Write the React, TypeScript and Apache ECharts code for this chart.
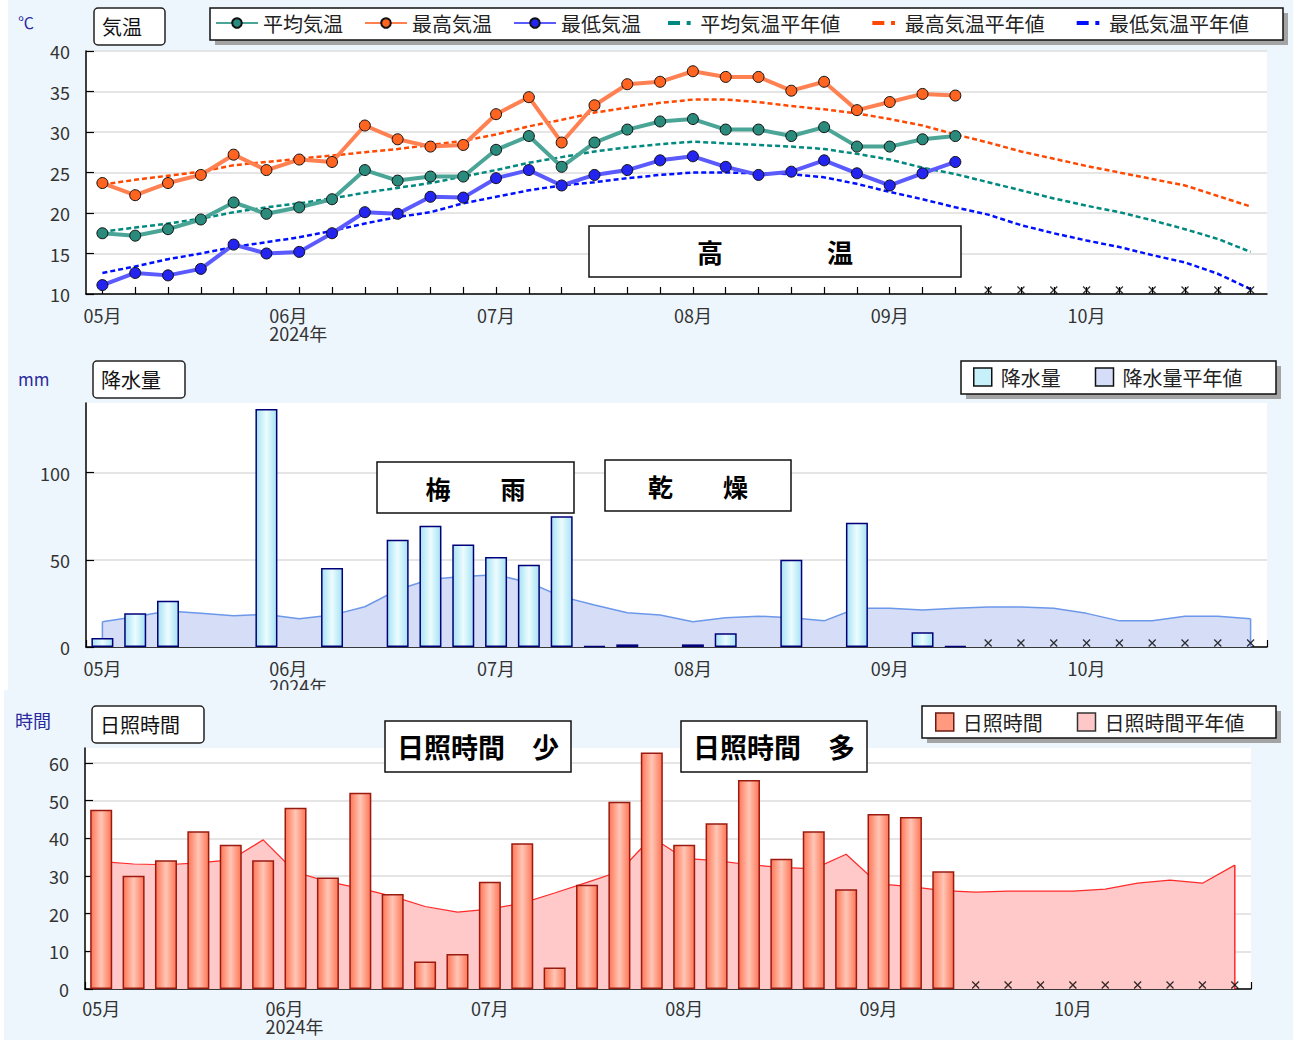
import React, { useEffect, useRef } from 'react';
import * as echarts from 'echarts';

// ---------- data ----------
const pentads = [
  '05/01', '05/06', '05/11', '05/16', '05/21', '05/26',
  '06/01', '06/06', '06/11', '06/16', '06/21', '06/26',
  '07/01', '07/06', '07/11', '07/16', '07/21', '07/26',
  '08/01', '08/06', '08/11', '08/16', '08/21', '08/26',
  '09/01', '09/06', '09/11', '09/16', '09/21', '09/26',
  '10/01', '10/06', '10/11', '10/16', '10/21', '10/26',
];
const monthTickLabels = ['05月', '06月', '07月', '08月', '09月', '10月'];
const yearLabel = '2024年';
const pentadsPerMonth = 6;

const N = null;
const avgTemp = [17.5, 17.2, 18.0, 19.2, 21.3, 19.9, 20.7, 21.7, 25.3, 24.0, 24.5, 24.5, 27.8, 29.5, 25.7, 28.7, 30.3, 31.3, 31.6, 30.3, 30.3, 29.5, 30.6, 28.2, 28.2, 29.1, 29.5, N, N, N, N, N, N, N, N, N];
const maxTemp = [23.7, 22.2, 23.7, 24.7, 27.2, 25.3, 26.6, 26.3, 30.8, 29.1, 28.2, 28.4, 32.2, 34.3, 28.7, 33.3, 35.9, 36.2, 37.5, 36.8, 36.8, 35.1, 36.2, 32.7, 33.7, 34.7, 34.5, N, N, N, N, N, N, N, N, N];
const minTemp = [11.1, 12.6, 12.3, 13.1, 16.1, 15.0, 15.2, 17.5, 20.1, 19.9, 22.0, 21.9, 24.3, 25.3, 23.4, 24.7, 25.3, 26.5, 27.0, 25.7, 24.7, 25.1, 26.5, 24.9, 23.4, 24.9, 26.3, N, N, N, N, N, N, N, N, N];
const avgTempNormal = [17.7, 18.2, 18.7, 19.3, 20.1, 20.7, 21.2, 21.8, 22.5, 23.1, 23.7, 24.5, 25.3, 26.2, 26.9, 27.6, 28.1, 28.5, 28.8, 28.6, 28.4, 28.2, 27.9, 27.3, 26.6, 25.6, 24.8, 23.8, 22.8, 21.8, 20.9, 20.1, 19.1, 18.0, 16.8, 15.2];
const maxTempNormal = [23.5, 24.1, 24.6, 25.1, 25.9, 26.3, 26.7, 27.1, 27.5, 27.9, 28.4, 28.9, 29.7, 30.7, 31.5, 32.4, 33.0, 33.6, 34.0, 34.0, 33.7, 33.2, 32.8, 32.3, 31.6, 30.8, 29.7, 28.7, 27.6, 26.7, 25.8, 25.0, 24.2, 23.4, 22.1, 20.8];
const minTempNormal = [12.6, 13.4, 14.3, 15.0, 15.8, 16.4, 17.0, 17.8, 18.7, 19.5, 20.1, 21.2, 22.0, 22.8, 23.4, 23.8, 24.3, 24.7, 25.0, 25.0, 24.9, 24.8, 24.4, 23.6, 22.6, 21.7, 20.7, 19.8, 18.5, 17.5, 16.6, 15.8, 14.8, 13.9, 12.5, 10.6];

const precip = [5.2, 19.3, 26.6, 0, 0, 136.5, 0, 45.3, 0, 61.5, 69.6, 58.8, 51.6, 47.2, 75.0, 0.5, 1.5, 0, 1.5, 7.9, 0, 50.0, 0, 71.3, 0, 8.5, 0.5, N, N, N, N, N, N, N, N, N];
const precipNormal = [14.5, 17.3, 20.6, 19.3, 17.9, 18.7, 16.2, 18.3, 23.1, 32.8, 38.9, 40.5, 41.4, 37.0, 28.9, 24.1, 19.7, 18.3, 14.5, 16.8, 17.7, 16.8, 15.0, 22.2, 22.2, 21.2, 22.2, 22.9, 22.9, 22.2, 19.3, 15.0, 15.0, 17.7, 17.7, 16.2];

const sunshine = [47.6, 30.1, 34.2, 41.9, 38.3, 34.2, 48.1, 29.6, 52.1, 25.2, 7.3, 9.3, 28.5, 38.7, 5.7, 27.7, 49.7, 62.8, 38.3, 44.0, 55.5, 34.6, 41.9, 26.5, 46.5, 45.7, 31.3, N, N, N, N, N, N, N, N, N];
const sunshineNormal = [33.8, 33.2, 33.0, 33.5, 34.3, 39.6, 31.0, 28.5, 26.7, 24.6, 21.9, 20.4, 21.2, 22.8, 25.5, 28.3, 31.2, 40.3, 34.7, 34.1, 33.0, 32.3, 31.9, 35.8, 27.9, 27.2, 26.1, 25.7, 26.0, 26.0, 26.0, 26.5, 28.1, 28.9, 28.1, 32.9];

// ---------- styles ----------
const FONT = "'Noto Sans CJK JP', 'Noto Sans', sans-serif";
const BG = '#eef6fd';
const X_MARK = 'path://M0,0L10,10M10,0L0,10';
const SQUARE = 'path://M0,0H10V10H0Z';
const DASH_DOT = 'path://M0,0H9V3H0ZM14,0H17V3H14Z';

const xAxisFor = (ticksAtCenter: boolean, labelMargin: number) => ({
  type: 'category',
  data: pentads,
  boundaryGap: true,
  axisLine: { lineStyle: { color: '#000', width: 1.5 } },
  axisTick: {
    show: true, interval: 0, inside: true, length: 7, alignWithLabel: ticksAtCenter,
    lineStyle: { color: '#000', width: 1.2 },
  },
  axisLabel: {
    interval: 0, margin: labelMargin, fontSize: 18, color: '#333', fontFamily: FONT, lineHeight: 18,
    formatter: (_v: string, i: number) => {
      if (i % pentadsPerMonth !== 0) return '';
      const m = monthTickLabels[i / pentadsPerMonth];
      if (i === pentadsPerMonth) return `{y|${m}}\n{y|${yearLabel}}`;
      return m;
    },
    rich: { y: { width: 60, align: 'left', fontSize: 18, lineHeight: 18, color: '#333', fontFamily: FONT } },
  },
  splitLine: { show: false },
});

const yAxisFor = (min: number, max: number, interval: number) => ({
  type: 'value', min, max, interval,
  axisLine: { show: true, lineStyle: { color: '#000', width: 1.5 } },
  axisTick: { show: true, inside: true, length: 8, lineStyle: { color: '#000', width: 1.2 } },
  axisLabel: { margin: 16, fontSize: 18, color: '#333', fontFamily: FONT, showMaxLabel: max % interval === 0 },
  splitLine: { show: true, showMaxLine: max % interval === 0, lineStyle: { color: '#dcdcdc', width: 1.5 } },
});

const gridAt = (left: number, top: number, width: number, height: number) => ({
  left, top, width, height, show: true, backgroundColor: '#fff', borderWidth: 0,
  containLabel: false, outerBoundsMode: 'none',
});

const noDataMarks = (obs: (number | null)[], base: number) => ({
  type: 'scatter',
  data: obs.map((v, i) => (v == null ? [i, base] : null)).filter((d) => d !== null),
  symbol: X_MARK, symbolSize: 7, symbolOffset: [0, -4],
  itemStyle: { color: 'none', borderColor: '#000', borderWidth: 1.3 },
  silent: true, z: 6, clip: false,
});

// bars with a zero amount draw nothing
const barValues = (obs: (number | null)[]) => obs.map((v) => (v === 0 ? null : v));

const labelBox = (x: number, y: number, w: number, h: number, text: string) => ([
  { type: 'rect', z: 10, shape: { x, y, width: w, height: h, r: 4 }, style: { fill: '#fff', stroke: '#222', lineWidth: 1.5 } },
  { type: 'text', z: 11, style: { x: x + 8, y: y + h / 2, text, fill: '#111', fontSize: 20, fontFamily: FONT, verticalAlign: 'middle', align: 'left' } },
]);

const legendFrame = (x: number, y: number, w: number, h: number) => ([
  { type: 'rect', z: 1, shape: { x: x + 5, y: y + 5, width: w, height: h }, style: { fill: '#a4a4a4' } },
  { type: 'rect', z: 2, shape: { x, y, width: w, height: h }, style: { fill: '#fff', stroke: '#111', lineWidth: 1.5 } },
]);

const noteBox = (x: number, y: number, w: number, h: number, text: string, size: number) => ([
  { type: 'rect', z: 100, shape: { x, y, width: w, height: h }, style: { fill: '#fff', stroke: '#111', lineWidth: 1.5 } },
  { type: 'text', z: 101, style: { x: x + w / 2, y: y + h / 2, text, fill: '#000', fontSize: size, fontWeight: 'bold', fontFamily: FONT, align: 'center', verticalAlign: 'middle' } },
]);

const unitText = (x: number, y: number, text: string, size: number) => ({
  type: 'text', z: 10, style: { x, y, text, fill: '#2a2aa0', fontSize: size, fontFamily: FONT, verticalAlign: 'middle', align: 'left' },
});

const legendText = { fontSize: 20, color: '#222', fontFamily: FONT };

// ---------- panel 1: temperature ----------
const obsLine = (name: string, data: (number | null)[], lineColor: string, dotColor: string) => ({
  name, type: 'line', data, symbol: 'circle', symbolSize: 11, showSymbol: true,
  lineStyle: { color: lineColor, width: 4 },
  itemStyle: { color: dotColor, borderColor: '#111', borderWidth: 1 },
  z: 4,
});
const normLine = (name: string, data: number[], color: string) => ({
  name, type: 'line', data, symbol: 'none',
  lineStyle: { color, width: 2.5, type: [5, 3] },
  itemStyle: { color },
  z: 3,
});

const option1 = {
  animation: false,
  backgroundColor: BG,
  textStyle: { fontFamily: FONT },
  grid: gridAt(78, 51, 1181, 243),
  xAxis: xAxisFor(true, 12),
  yAxis: yAxisFor(10, 40, 5),
  legend: [
    {
      data: ['平均気温', '最高気温', '最低気温'], left: 207, top: 13, padding: 0,
      itemWidth: 42, itemHeight: 12, itemGap: 21, textStyle: legendText, lineStyle: { width: 2 },
    },
    {
      data: [
        { name: '平均気温平年値', icon: DASH_DOT },
        { name: '最高気温平年値', icon: DASH_DOT },
        { name: '最低気温平年値', icon: DASH_DOT },
      ],
      left: 660, top: 13, padding: 0,
      itemWidth: 32, itemHeight: 4, itemGap: 32, textStyle: legendText,
    },
  ],
  graphic: [
    unitText(10, 22, '℃', 16),
    ...labelBox(86, 8, 71, 37, '気温'),
    ...legendFrame(202, 8, 1073, 32),
    ...noteBox(581, 226, 372, 51, '高　　　　温', 26),
  ],
  series: [
    normLine('平均気温平年値', avgTempNormal, '#00897e'),
    normLine('最高気温平年値', maxTempNormal, '#ff4800'),
    normLine('最低気温平年値', minTempNormal, '#0010ff'),
    obsLine('平均気温', avgTemp, '#4aa597', '#2a8a7c'),
    obsLine('最高気温', maxTemp, '#ff8152', '#ff6420'),
    obsLine('最低気温', minTemp, '#5a5aff', '#2424f0'),
    noDataMarks(avgTemp, 10),
  ],
};

// ---------- panel 2: precipitation ----------
const edgeLine = (data: number[], color: string) => ([
  { type: 'line', data: [[0, 0], [0, data[0]]], symbol: 'none', lineStyle: { color, width: 1.5 }, z: 2, silent: true },
  { type: 'line', data: [[data.length - 1, 0], [data.length - 1, data[data.length - 1]]], symbol: 'none', lineStyle: { color, width: 1.5 }, z: 2, silent: true },
]);

const precipFill = {
  type: 'linear', x: 0, y: 0, x2: 1, y2: 0,
  colorStops: [{ offset: 0, color: '#a6e2f3' }, { offset: 0.5, color: '#ecfcff' }, { offset: 1, color: '#a6e2f3' }],
};

const option2 = {
  animation: false,
  backgroundColor: BG,
  textStyle: { fontFamily: FONT },
  grid: gridAt(78, 55, 1181, 244),
  xAxis: xAxisFor(false, 12),
  yAxis: yAxisFor(0, 140, 50),
  legend: {
    data: [
      { name: '降水量', icon: SQUARE, itemStyle: { color: '#c6f0fa', borderColor: '#111', borderWidth: 1.5 } },
      { name: '降水量平年値', icon: SQUARE, itemStyle: { color: '#d6ddf8', borderColor: '#111', borderWidth: 1.5 } },
    ],
    left: 965, top: 19, padding: 0, itemWidth: 26, itemHeight: 18, itemGap: 34, textStyle: legendText,
  },
  graphic: [
    unitText(10, 30, 'mm', 17),
    ...labelBox(85, 13, 92, 37, '降水量'),
    ...legendFrame(953, 13, 315, 33),
    ...noteBox(369, 114, 197, 51, '梅　　雨', 25),
    ...noteBox(597, 112, 186, 51, '乾　　燥', 25),
  ],
  series: [
    {
      name: '降水量平年値', type: 'line', data: precipNormal, symbol: 'none',
      lineStyle: { color: '#6c98ea', width: 1.5 }, itemStyle: { color: '#d6ddf8' },
      areaStyle: { color: '#d6ddf6', opacity: 1 }, z: 1,
    },
    ...edgeLine(precipNormal, '#6c98ea'),
    {
      name: '降水量', type: 'bar', data: barValues(precip), barWidth: '67%',
      itemStyle: { color: precipFill, borderColor: '#00007a', borderWidth: 1.5 }, z: 3,
    },
    noDataMarks(precip, 0),
  ],
};

// ---------- panel 3: sunshine ----------
const sunFill = {
  type: 'linear', x: 0, y: 0, x2: 1, y2: 0,
  colorStops: [{ offset: 0, color: '#ff7656' }, { offset: 0.5, color: '#ffc6b6' }, { offset: 1, color: '#ff7656' }],
};

const option3 = {
  animation: false,
  backgroundColor: BG,
  textStyle: { fontFamily: FONT },
  grid: gridAt(81, 58, 1166, 241),
  xAxis: xAxisFor(false, 10),
  yAxis: yAxisFor(0, 64, 10),
  legend: {
    data: [
      { name: '日照時間', icon: SQUARE, itemStyle: { color: '#ff9a80', borderColor: '#6a1a10', borderWidth: 1.5 } },
      { name: '日照時間平年値', icon: SQUARE, itemStyle: { color: '#ffc8c8', borderColor: '#333', borderWidth: 1.5 } },
    ],
    left: 931, top: 22, padding: 0, itemWidth: 26, itemHeight: 18, itemGap: 34, textStyle: legendText,
  },
  graphic: [
    unitText(11, 30, '時間', 18),
    ...labelBox(88, 16, 112, 37, '日照時間'),
    ...legendFrame(918, 16, 354, 32),
    ...noteBox(381, 31, 186, 51, '日照時間　少', 27),
    ...noteBox(677, 31, 186, 51, '日照時間　多', 27),
  ],
  series: [
    {
      name: '日照時間平年値', type: 'line', data: sunshineNormal, symbol: 'none',
      lineStyle: { color: '#ff2a2a', width: 1.2 }, itemStyle: { color: '#ffc8c8' },
      areaStyle: { color: '#ffc9c9', opacity: 1 }, z: 1,
    },
    ...edgeLine(sunshineNormal, '#ff2a2a'),
    {
      name: '日照時間', type: 'bar', data: barValues(sunshine), barWidth: '68%',
      itemStyle: { color: sunFill, borderColor: '#9a1a10', borderWidth: 1.5 }, z: 3,
    },
    noDataMarks(sunshine, 0),
  ],
};

// ---------- components ----------
function Panel(props: { left: number; top: number; width: number; height: number; option: any }) {
  const ref = useRef<HTMLDivElement>(null);
  useEffect(() => {
    if (!ref.current) return;
    const chart = echarts.init(ref.current, null, { renderer: 'svg' });
    chart.setOption(props.option);
    return () => chart.dispose();
  }, []);
  return (
    <div style={{ position: 'absolute', left: props.left, top: props.top, width: props.width, height: props.height, overflow: 'hidden', background: BG }}>
      <div ref={ref} style={{ width: props.width, height: props.height }} />
    </div>
  );
}

export default function App() {
  return (
    <div style={{ position: 'absolute', left: 0, top: 0, width: 1293, height: 1040, overflow: 'hidden', background: '#fff' }}>
      <Panel left={8} top={0} width={1285} height={348} option={option1} />
      <Panel left={8} top={348} width={1285} height={342} option={option2} />
      <Panel left={4} top={690} width={1289} height={350} option={option3} />
    </div>
  );
}
